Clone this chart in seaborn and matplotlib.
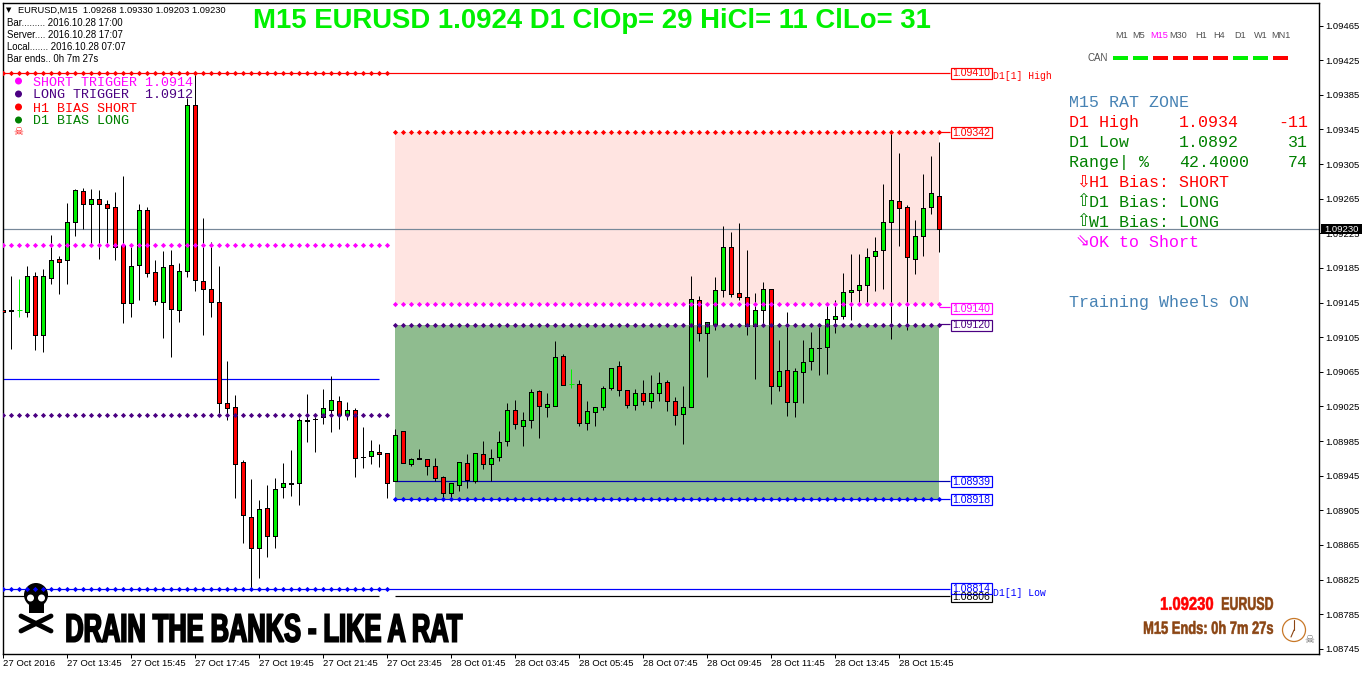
import numpy as np
import pandas as pd
import matplotlib
matplotlib.use("Agg")
import matplotlib.pyplot as plt
from matplotlib.patches import Rectangle, Circle, Ellipse, PathPatch
from matplotlib.font_manager import FontProperties
from matplotlib.text import Text
from matplotlib.textpath import TextPath
from matplotlib.transforms import Affine2D, Bbox
import seaborn as sns

# EURUSD M15 candles, in points (1.09230 -> 109230)
opens = [109136, 109136, 109136, 109134, 109176, 109108, 109173, 109195, 109194, 109238,
         109274, 109259, 109265, 109259, 109255, 109212, 109145, 109188, 109252, 109180,
         109146, 109188, 109136, 109181, 109373, 109170, 109161, 109146, 109029, 109024,
         108961, 108897, 108862, 108908, 108875, 108932, 108936, 108936, 109009, 109011,
         109013, 109021, 109031, 109015, 109021, 108967, 108968, 108972, 108971, 108939,
         108997, 108959, 108965, 108964, 108956, 108943, 108925, 108934, 108960, 108939,
         108970, 108959, 108967, 108985, 109021, 109002, 109009, 109043, 109024, 109026,
         109083, 109051, 109051, 109006, 109019, 109024, 109046, 109072, 109044, 109027,
         109040, 109031, 109041, 109053, 109031, 109016, 109024, 109148, 109110, 109120,
         109160, 109209, 109156, 109151, 109118, 109136, 109161, 109049, 109067, 109030,
         109065, 109078, 109093, 109094, 109126, 109130, 109157, 109160, 109165, 109199,
         109206, 109238, 109262, 109255, 109195, 109222, 109255, 109268]
highs = [109191, 109176, 109172, 109187, 109180, 109184, 109223, 109199, 109260, 109276,
         109277, 109276, 109275, 109263, 109273, 109291, 109209, 109259, 109255, 109194,
         109205, 109206, 109191, 109381, 109410, 109243, 109215, 109187, 109078, 109038,
         108963, 108941, 108917, 108934, 108942, 108960, 108975, 109012, 109039, 109013,
         109045, 109060, 109037, 109030, 109023, 109001, 108986, 108982, 108971, 108999,
         108997, 108965, 108976, 108964, 108965, 108945, 108936, 108961, 108970, 108971,
         108985, 108976, 108997, 109029, 109032, 109019, 109045, 109044, 109041, 109101,
         109086, 109068, 109056, 109031, 109024, 109049, 109069, 109078, 109044, 109045,
         109056, 109061, 109065, 109056, 109036, 109049, 109176, 109153, 109123, 109175,
         109233, 109226, 109237, 109206, 109156, 109169, 109161, 109102, 109134, 109069,
         109102, 109111, 109117, 109142, 109148, 109179, 109201, 109201, 109208, 109221,
         109282, 109343, 109318, 109258, 109240, 109293, 109314, 109330]
lows = [109064, 109091, 109128, 109128, 109090, 109088, 109166, 109155, 109166, 109222,
        109230, 109213, 109195, 109214, 109194, 109121, 109128, 109148, 109175, 109142,
        109104, 109082, 109123, 109175, 109158, 109108, 109128, 109017, 109009, 108919,
        108867, 108815, 108827, 108851, 108862, 108919, 108922, 108911, 108984, 108972,
        109005, 108996, 108999, 109009, 108944, 108954, 108959, 108955, 108919, 108939,
        108960, 108956, 108964, 108946, 108939, 108919, 108919, 108927, 108931, 108936,
        108953, 108939, 108962, 108979, 108999, 108979, 109000, 108989, 109013, 109026,
        109050, 109046, 109002, 108998, 109002, 109021, 109044, 109037, 109023, 109021,
        109027, 109023, 109031, 109020, 109004, 108982, 109024, 109100, 109059, 109113,
        109151, 109151, 109148, 109108, 109057, 109118, 109028, 109043, 109014, 109013,
        109029, 109067, 109061, 109062, 109110, 109126, 109125, 109143, 109144, 109158,
        109161, 109103, 109210, 109113, 109178, 109199, 109247, 109203]
closes = [109134, 109135, 109136, 109176, 109108, 109176, 109194, 109192, 109238, 109275,
          109259, 109265, 109259, 109254, 109209, 109145, 109187, 109252, 109179, 109147,
          109186, 109138, 109181, 109373, 109171, 109161, 109146, 109029, 109023, 108959,
          108900, 108862, 108907, 108875, 108930, 108936, 108935, 109009, 109008, 109010,
          109023, 109032, 109015, 109021, 108965, 108966, 108974, 108970, 108937, 108992,
          108960, 108964, 108964, 108956, 108942, 108925, 108936, 108961, 108940, 108971,
          108959, 108965, 108984, 109021, 109005, 109009, 109042, 109026, 109028, 109082,
          109050, 109051, 109006, 109020, 109024, 109046, 109069, 109044, 109027, 109041,
          109031, 109041, 109052, 109031, 109015, 109024, 109149, 109110, 109123, 109160,
          109209, 109155, 109151, 109118, 109136, 109161, 109049, 109066, 109030, 109066,
          109076, 109093, 109092, 109126, 109130, 109157, 109160, 109165, 109198, 109205,
          109238, 109263, 109254, 109198, 109222, 109254, 109272, 109230]

price_ticks = [1.09465, 1.09425, 1.09385, 1.09345, 1.09305, 1.09265, 1.09225, 1.09185, 1.09145, 1.09105,
               1.09065, 1.09025, 1.08985, 1.08945, 1.08905, 1.08865, 1.08825, 1.08785, 1.08745]
time_labels = ["27 Oct 2016", "27 Oct 13:45", "27 Oct 15:45", "27 Oct 17:45", "27 Oct 19:45",
               "27 Oct 21:45", "27 Oct 23:45", "28 Oct 01:45", "28 Oct 03:45", "28 Oct 05:45",
               "28 Oct 07:45", "28 Oct 09:45", "28 Oct 11:45", "28 Oct 13:45", "28 Oct 15:45"]

# price levels
d1_high = 1.09410
d1_low = 1.08814
d1_close = 1.08806
bias_level = 1.09057
current_price = 1.09230
old_short = 1.09212
old_long = 1.09015
zone_top = 1.09342
zone_short = 1.09140
zone_long = 1.09120
zone_mid = 1.08939
zone_bottom = 1.08918
# the zone edges and dots sit a touch off their labels in the original
zone_short_edge = 1.09143
zone_long_edge = 1.09119

tf_names = ["M1", "M5", "M15", "M30", "H1", "H4", "D1", "W1", "MN1"]
tf_states = ["up", "up", "down", "down", "down", "down", "up", "up", "down"]

LIME = "#00f000"
RED = "#ff0000"
MAGENTA = "#ff00ff"
INDIGO = "#4b0082"
BLUE = "#0000ff"
STEEL = "#4682b4"
DGREEN = "#008000"
BROWN = "#8b4513"
MONO = ["Liberation Mono", "DejaVu Sans Mono"]
PX = 0.72

sns.set_theme(style="white")
plt.rcParams["font.family"] = ["Liberation Sans", "DejaVu Sans"]

df = pd.DataFrame({"open": opens, "high": highs, "low": lows, "close": closes}) / 1e5
df["bar"] = np.arange(len(df))
df["top"] = df[["open", "close"]].max(axis=1)
df["bottom"] = df[["open", "close"]].min(axis=1)

fig = plt.figure(figsize=(13.62, 6.75), dpi=100)
ax = fig.add_axes([3 / 1362, 21 / 675, 1316 / 1362, 651 / 675])


def level_line(y, x0, x1, color, z=2):
    ax.hlines(y, x0, x1, colors=color, lw=PX * 1.2, zorder=z)


def level_dots(y, x0, x1, color):
    xs = np.arange(x0, x1 + 1)
    sns.scatterplot(x=xs, y=np.full(len(xs), y), color=color, marker="D", s=7, linewidth=0, ax=ax, zorder=6)


# rat zones
ax.fill_between([49, 117], zone_short_edge, zone_top, color="#ffe4e1", lw=0, zorder=1)
ax.fill_between([49, 117], zone_bottom, zone_long_edge, color="#8fbc8f", lw=0, zorder=1)

# lines under the candles
level_line(current_price, -1, 170, "#778899")
level_line(d1_high, 0, 118.3, RED)
level_line(bias_level, 0, 47, BLUE)
level_line(d1_low, 0, 118.3, BLUE)
level_line(d1_close, 0, 47, "black")
level_line(d1_close, 49, 118.3, "black")
level_line(zone_mid, 49, 118.3, "#0000b0")
level_line(zone_bottom, 49, 118.3, BLUE)
level_line(zone_top, 117, 118.3, RED)
level_line(zone_short, 117, 118.3, MAGENTA)
level_line(zone_long, 117, 118.3, INDIGO)

# candles
dojis = df[df["open"] == df["close"]]
normal = df[df["open"] != df["close"]]
colors = np.where(normal["close"] > normal["open"], LIME, RED)
ax.vlines(normal["bar"], normal["low"], normal["high"], colors="black", lw=PX, zorder=3)
ax.vlines(dojis["bar"], dojis["low"], dojis["high"], colors=LIME, lw=PX, zorder=3)
ax.hlines(dojis["close"], dojis["bar"] - 0.3, dojis["bar"] + 0.3, colors=LIME, lw=PX, zorder=3)
ax.bar(normal["bar"], normal["top"] - normal["bottom"], bottom=normal["bottom"], width=0.5,
       color=colors, edgecolor="black", linewidth=PX, zorder=4, antialiased=False)

# dotted levels
level_dots(d1_high, 0, 48, RED)
level_dots(old_short, 0, 48, MAGENTA)
level_dots(old_long, 0, 48, INDIGO)
level_dots(d1_low, 0, 48, BLUE)
level_dots(zone_top, 49, 117, RED)
level_dots(zone_short_edge, 49, 117, MAGENTA)
level_dots(zone_long_edge, 49, 117, INDIGO)
level_dots(zone_bottom, 49, 117, BLUE)

ax.set_xlim(-0.04, 164.46)
ax.set_ylim(1.08739, 1.09491)
ax.set_xlabel("")
ax.set_ylabel("")
ax.yaxis.tick_right()
ax.set_yticks(price_ticks)
ax.set_yticklabels([f"{v:.5f}" for v in price_ticks], fontsize=6.8, color="black")
ax.set_xticks(np.arange(len(time_labels)) * 8)
ax.set_xticklabels(time_labels, fontsize=6.8, ha="left", color="black")
ax.tick_params(axis="both", length=3, width=PX, color="black", bottom=True, right=True)
ax.tick_params(axis="x", pad=0.8)
ax.tick_params(axis="y", pad=1.5)
for s in ax.spines.values():
    s.set_color("black")
    s.set_linewidth(1.0)

# everything written on the chart sits on a pixel overlay
ov = fig.add_axes([0, 0, 1, 1], zorder=10)
ov.set_xlim(0, 1362)
ov.set_ylim(675, 0)
ov.axis("off")
ov.patch.set_alpha(0)


class FittedText(Text):
    # real text squeezed into a box when drawn, no Impact-like face is installed
    def __init__(self, x0, x1, y0, y1, s, color, stroke):
        super().__init__(x0, y1, s, color=color, fontweight="bold", family="Liberation Sans",
                         transform=ov.transData)
        self.box = (x0, x1, y0, y1)
        self.stroke = stroke

    def get_window_extent(self, renderer=None, dpi=None):
        x0, x1, y0, y1 = self.box
        return Bbox(ov.transData.transform([(x0, y1), (x1, y0)]))

    def draw(self, renderer):
        tp = TextPath((0, 0), self.get_text(), size=10,
                      prop=FontProperties(family="Liberation Sans", weight="bold"))
        ext = tp.get_extents()
        b = self.get_window_extent()
        tr = Affine2D().translate(-ext.x0, -ext.y0).scale(b.width / ext.width, b.height / ext.height)
        patch = PathPatch(tp, facecolor=self.get_color(), edgecolor=self.get_color(), lw=self.stroke,
                          transform=tr.translate(b.x0, b.y0))
        patch.set_figure(fig)
        patch.draw(renderer)


def put(x, y, s, color="black", size=6.9, family=None, ha="left", weight="normal"):
    return ov.text(x, y, s, color=color, fontsize=size, family=family, ha=ha, va="center", fontweight=weight)


put(253, 21.5, "M15 EURUSD 1.0924 D1 ClOp= 29 HiCl= 11 ClLo= 31", LIME, 19.85, weight="bold")

# header
put(6, 10, "▼", "black", 5, family="DejaVu Sans")
put(18, 10, "EURUSD,M15  1.09268 1.09330 1.09203 1.09230", size=6.65)
put(7, 23, "Bar......... 2016.10.28 17:00")
put(7, 35, "Server.... 2016.10.28 17:07")
put(7, 47, "Local....... 2016.10.28 07:07")
put(7, 59, "Bar ends.. 0h 7m 27s")

# top left legend
legend_rows = [(81, MAGENTA, "SHORT TRIGGER 1.0914"), (94, INDIGO, "LONG TRIGGER  1.0912"),
               (107, RED, "H1 BIAS SHORT"), (120, DGREEN, "D1 BIAS LONG")]
for y, c, s in legend_rows:
    ov.add_patch(Circle((18.5, y), 3.5, color=c, lw=0))
    put(33, y + 1.5, s, c, 9.6, family=MONO)
put(18.5, 132, "☠", RED, 8, family="DejaVu Sans", ha="center")

# level labels
boxes = [(73, "1.09410", RED), (132.5, "1.09342", RED), (308, "1.09140", MAGENTA), (325, "1.09120", INDIGO),
         (481.5, "1.08939", BLUE), (499.5, "1.08918", BLUE), (596.5, "1.08806", "black"), (588.5, "1.08814", BLUE)]
for y, s, c in boxes:
    ov.add_patch(Rectangle((951, y - 5.5), 40.5, 11, facecolor="white", edgecolor=c, lw=PX * 1.2))
    put(971.5, y + 0.5, s, c, 7.6, ha="center")
put(993, 76, "D1[1] High", RED, 7, family=MONO)
put(993, 592.5, "D1[1] Low", BLUE, 7, family=MONO)

# current price tag
ov.add_patch(Rectangle((1321, 224), 41, 10, facecolor="black", edgecolor="black", lw=0))
put(1341.5, 229.5, "1.09230", "white", 6.8, ha="center")

# timeframe strip
tf_centers = [1122, 1138.5, 1159, 1178, 1201, 1219.5, 1240.5, 1261, 1280.5]
for x, name in zip(tf_centers, tf_names):
    put(x, 36, name, MAGENTA if name == "M15" else "#505050", 6.6, ha="center")
put(1088, 58, "CAN", "#505050", 7)
for k, state in enumerate(tf_states):
    ov.add_patch(Rectangle((1112.5 + 20 * k, 56), 15.5, 4, color=LIME if state == "up" else RED, lw=0))

# rat zone panel
put(1069, 102.5, "M15 RAT ZONE", STEEL, 12, family=MONO)
panel = [(122.5, RED, "D1 High", "1.0934", "-11"), (142.5, DGREEN, "D1 Low", "1.0892", "31"),
         (162.5, DGREEN, "Range| %", "42.4000", "74")]
for y, c, a, b, d in panel:
    put(1069, y, a, c, 12, family=MONO)
    put(1179, y, b, c, 12, family=MONO)
    put(1308, y, d, c, 12, family=MONO, ha="right")
bias_rows = [(182.5, "⇩", RED, "H1 Bias: SHORT"), (202.5, "⇧", DGREEN, "D1 Bias: LONG"),
             (222.5, "⇧", DGREEN, "W1 Bias: LONG"), (242.5, "⇘", MAGENTA, "OK to Short")]
for y, arrow, c, s in bias_rows:
    put(1076, y - 1, arrow, c, 12, family="DejaVu Sans")
    put(1089, y, s, c, 12, family=MONO)
put(1069, 302.5, "Training Wheels ON", STEEL, 12, family=MONO)

# skull and bones, under the blue dots
ax.add_patch(Ellipse((36, 595), 24, 24, color="black", lw=0, transform=ov.transData, zorder=5, clip_on=False))
ax.add_patch(Rectangle((28.5, 604), 15, 9, color="black", lw=0, transform=ov.transData, zorder=5, clip_on=False))
for ex in (30.5, 41.5):
    ax.add_patch(Circle((ex, 598), 3.5, color="white", lw=0, transform=ov.transData, zorder=5, clip_on=False))
ax.plot([21, 51], [631, 616], color="black", lw=3.5, solid_capstyle="round", transform=ov.transData, zorder=5, clip_on=False)
ax.plot([21, 51], [616, 631], color="black", lw=3.5, solid_capstyle="round", transform=ov.transData, zorder=5, clip_on=False)

# banner and bottom right block, in condensed shapes
ov.add_artist(FittedText(67, 462, 614, 642, "DRAIN THE BANKS - LIKE A RAT", "black", 1.3))
ov.add_artist(FittedText(1161, 1213, 597, 610, "1.09230", RED, 0.4))
ov.add_artist(FittedText(1222, 1273, 597, 610, "EURUSD", BROWN, 0.4))
ov.add_artist(FittedText(1144, 1273, 621, 634, "M15 Ends: 0h 7m 27s", BROWN, 0.4))

ov.add_patch(Circle((1294, 630), 11.5, facecolor="white", edgecolor="#c87828", lw=0.9))
ov.plot([1294, 1294], [630, 620], color=BROWN, lw=0.8)
ov.plot([1294, 1291], [630, 637], color=BROWN, lw=0.8)
put(1309, 640, "☠", "#606060", 8, family="DejaVu Sans", ha="center")

fig.savefig("out.png", dpi=100)
plt.close(fig)
